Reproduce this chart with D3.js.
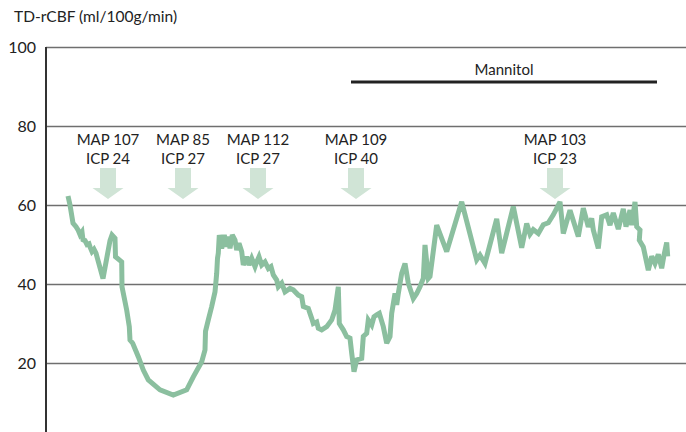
<!DOCTYPE html>
<html>
<head>
<meta charset="utf-8">
<script src="https://cdn.jsdelivr.net/npm/d3@7"></script>
<style>
  body { margin: 0; background: #fff; }
  text { font-family: Lato, "Noto Sans", sans-serif; fill: #222; }
</style>
</head>
<body>
<svg id="chart" width="686" height="432"></svg>
<script>
// time (arbitrary units) and TD-rCBF values
var time = [0, 2, 5, 8, 10, 12, 14, 15, 17, 19, 21, 22, 24, 26, 28, 35, 42, 44, 47, 47.5,
  53.7, 54, 58.7, 61.3, 62, 64.7, 70.3, 75.3, 80.3, 92, 105.3, 118.7, 125.3, 133.7, 137, 137.5,
  140.3, 143.7, 147, 148.7, 149.5, 150.3, 151.3, 153.7, 156.3, 158.7, 160.3, 162, 164.3, 167, 168.7,
  171, 173.7, 175.3, 178.7, 181, 183.7, 187, 188.7, 191, 193.7, 197, 200.3, 203, 205.3, 208.7, 210.3,
  213.7, 217, 222, 225.3, 230.3, 233.7, 235.3, 240.3, 243.7, 245.3, 248.7, 250.3, 253.7, 258.7, 263.7,
  267, 270.3, 271.3, 275.3, 278.7, 282, 283.7, 286, 288.7, 293.7, 295.3, 298.7, 300.3, 303.7, 306,
  308.7, 311.3, 315.3, 318.7, 322, 323.7, 327, 328.7, 330.3, 333.7, 337, 340.3, 345.3, 348.7, 352,
  355.3, 357, 360.3, 362, 368.7, 378.7, 393.7, 408.7, 412, 417, 428.7, 433.7, 445.3, 453.7, 458.7,
  462, 465.3, 470.3, 475.3, 480.3, 485.3, 492, 495.3, 502, 510.3, 515.3, 520.3, 523.7, 525.3, 530.3,
  533.7, 538.7, 542, 545.3, 550.3, 555.3, 558, 562, 563.7, 567, 568.7, 572, 571.3, 575.3, 580.3, 583.7,
  587, 590.3, 593.7, 596, 598.7, 599.7];
var cbf = [62.3, 60, 55.4, 54.5, 53.7, 52.5, 53.2, 51.2, 51, 50, 50.2, 49.4, 48.2, 48.8, 47.8, 41.4,
  51, 52.4, 51.6, 46.9, 45.6, 39.3, 33.4, 29.2, 25.8, 25, 21.6, 18.2, 15.7, 13.2, 11.9, 13.2, 16.5,
  20.3, 23.3, 28, 30.9, 34.3, 38, 42.7, 46.5, 47.8, 52.4, 49, 52.4, 49.4, 52, 49, 52.4, 51.1, 48.6,
  50.3, 48.2, 44.8, 46.9, 44.8, 46.5, 44.4, 45.6, 46.9, 44.8, 45.6, 43.9, 44.4, 42.3, 41, 39.3, 40.2,
  38, 38.9, 38.5, 37.2, 36.8, 34.3, 33.8, 31.3, 30, 30.4, 28.8, 28.4, 29.2, 30.9, 33.4, 39.3, 30, 28.4,
  26.7, 26.3, 22.5, 17.8, 20.8, 21.2, 26.7, 27.5, 30.9, 29.6, 31.7, 32.2, 32.6, 29.2, 25, 26.7, 32.6,
  37.6, 34.7, 37.6, 42.7, 45.2, 40.2, 36.3, 37.6, 39.3, 41.4, 49.9, 41.4, 41.9, 54.9, 48.2, 60.8,
  46.1, 47.3, 45.2, 56.5, 47.8, 59.6, 49.2, 55.3, 52.6, 53.8, 52.8, 55, 55.5, 57.5, 60.8, 52.8, 58.7,
  52, 59.2, 54.5, 56.6, 53.7, 49, 57, 57.5, 54.9, 58, 53.9, 59, 54.5, 58.7, 54.9, 60.8, 54.5, 53.7,
  51.1, 49.4, 43.5, 47, 45.2, 47.5, 44, 47.3, 50.5, 47];

var yTicks = [20, 40, 60, 80, 100];

// interventions marked with arrows
var eventTime = [40, 115, 190, 288, 487];
var eventMap = ['MAP 107', 'MAP 85', 'MAP 112', 'MAP 109', 'MAP 103'];
var eventIcp = ['ICP 24', 'ICP 27', 'ICP 27', 'ICP 40', 'ICP 23'];

var mannitolStart = 283, mannitolEnd = 589;

var svg = d3.select('#chart');
var x = d3.scaleLinear().domain([0, 600]).range([68, 668]);
var y = d3.scaleLinear().domain([0, 100]).range([442, 47]);
var axisX = 46;

svg.append('text')
    .attr('x', 14).attr('y', 22)
    .style('font-size', '15.5px')
    .text('TD-rCBF (ml/100g/min)');

// gridlines + tick labels
var yAxis = d3.axisLeft(y)
    .tickValues(yTicks)
    .tickSize(-(686 - axisX))
    .tickPadding(10)
    .tickFormat(d3.format('d'));
var gy = svg.append('g')
    .attr('transform', 'translate(' + axisX + ',0)')
    .call(yAxis);
gy.select('.domain').remove();
gy.selectAll('.tick line').attr('stroke', '#6f6f6f').attr('stroke-width', 1.5);
gy.selectAll('.tick text').style('font-size', '16px').attr('fill', '#222');

svg.append('line')
    .attr('x1', axisX).attr('x2', axisX)
    .attr('y1', y(100)).attr('y2', 432)
    .attr('stroke', '#333').attr('stroke-width', 2);

// mannitol bar
svg.append('line')
    .attr('x1', x(mannitolStart)).attr('x2', x(mannitolEnd))
    .attr('y1', 82).attr('y2', 82)
    .attr('stroke', '#222').attr('stroke-width', 3);
svg.append('text')
    .attr('x', (x(mannitolStart) + x(mannitolEnd)) / 2).attr('y', 75)
    .attr('text-anchor', 'middle')
    .style('font-size', '15px')
    .text('Mannitol');

// event arrows
var ev = svg.selectAll('.event')
    .data(eventTime)
    .enter().append('g')
    .attr('class', 'event')
    .attr('transform', function(d) { return 'translate(' + x(d) + ',0)'; });
ev.append('path')
    .attr('d', 'M -8 168 L 8 168 L 8 188 L 15.5 188 L 0 199 L -15.5 188 L -8 188 Z')
    .attr('fill', '#d0e4d6');
ev.append('text')
    .attr('y', 145).attr('text-anchor', 'middle')
    .style('font-size', '15px')
    .text(function(d, i) { return eventMap[i]; });
ev.append('text')
    .attr('y', 164).attr('text-anchor', 'middle')
    .style('font-size', '15px')
    .text(function(d, i) { return eventIcp[i]; });

// trace
var line = d3.line()
    .x(function(d) { return x(d[0]); })
    .y(function(d) { return y(d[1]); });
svg.append('path')
    .datum(time.map(function(t, i) { return [t, cbf[i]]; }))
    .attr('d', line)
    .attr('fill', 'none')
    .attr('stroke', '#8bbf9f')
    .attr('stroke-width', 5)
    .attr('stroke-linejoin', 'miter')
    .attr('stroke-miterlimit', 3);
</script>
</body>
</html>
